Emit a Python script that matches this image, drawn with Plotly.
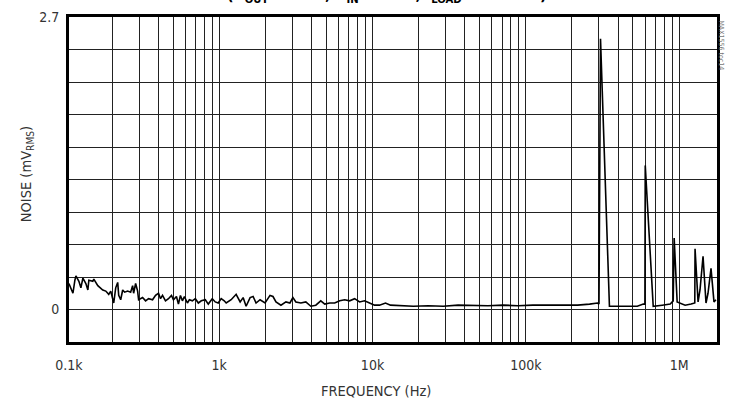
import plotly.graph_objects as go

# ---- data ----
freq_hz = [
    104.6, 107.8, 111.1, 114.4, 116.2, 121.5, 125.2, 129.0, 134.9, 139.0, 141.1, 149.7, 152.0,
    161.4, 173.9, 181.9, 190.2, 196.0, 201.9, 205.0, 211.2, 217.6, 220.9, 227.6, 234.5, 241.6,
    252.7, 264.3, 272.3, 276.4, 284.8, 293.5, 297.9, 316.3, 330.8, 346.0, 367.4, 384.2, 401.8,
    414.0, 426.6, 446.1, 466.5, 488.0, 502.8, 526.0, 541.8, 558.3, 575.1, 592.6, 619.8, 638.6,
    668.0, 698.5, 730.6, 764.0, 811.1, 848.3, 900.6, 941.8, 985.1, 1030, 1078,
    1110, 1196, 1289, 1369, 1432, 1497, 1590, 1663, 1739, 1846, 1990, 2144, 2242, 2345, 2527,
    2723, 2891, 3024, 3162, 3408, 3672, 3957, 4265, 4596, 4879, 5258, 5665, 6107, 6579, 7089,
    7641, 8234, 8873, 9562, 10300, 11100,
    12150, 13090, 14750, 18460, 23100, 28900, 36150, 45270, 56630, 70960, 88730, 111000,
    139000, 173800, 217700, 260400, 293600, 300000, 307000, 351000, 395500, 459300, 533500,
    583700, 598000, 601000, 677500, 775600, 874700, 914800, 928000, 970600, 1094000, 1197000,
    1265000, 1270000, 1329000, 1368000, 1432000, 1497000, 1543000, 1614000, 1688000, 1738000,
]
noise_mvrms = [
    0.24, 0.20, 0.15, 0.27, 0.31, 0.26, 0.20, 0.29, 0.24, 0.18, 0.27, 0.26, 0.28,
    0.22, 0.18, 0.17, 0.14, 0.17, 0.09, 0.06, 0.20, 0.25, 0.13, 0.09, 0.18, 0.16,
    0.17, 0.16, 0.22, 0.15, 0.24, 0.17, 0.09, 0.11, 0.08, 0.10, 0.09, 0.13, 0.15,
    0.10, 0.13, 0.08, 0.10, 0.13, 0.09, 0.12, 0.05, 0.13, 0.08, 0.12, 0.06, 0.09,
    0.08, 0.10, 0.06, 0.08, 0.09, 0.05, 0.10, 0.07, 0.06, 0.10, 0.08,
    0.06, 0.09, 0.14, 0.07, 0.11, 0.03, 0.11, 0.12, 0.06, 0.09, 0.06, 0.13, 0.12, 0.07, 0.04,
    0.07, 0.06, 0.11, 0.07, 0.06, 0.07, 0.03, 0.04, 0.08, 0.05, 0.06, 0.06, 0.08, 0.09, 0.08,
    0.10, 0.07, 0.08, 0.06, 0.04, 0.04,
    0.06, 0.04, 0.035, 0.03, 0.035, 0.03, 0.04, 0.035, 0.035, 0.04, 0.035, 0.04,
    0.04, 0.045, 0.04, 0.05, 0.06, 0.05, 2.50, 0.03, 0.03, 0.035, 0.03,
    0.05, 0.05, 1.33, 0.03, 0.04, 0.05, 0.08, 0.66, 0.07, 0.04, 0.05,
    0.06, 0.56, 0.07, 0.18, 0.49, 0.06, 0.15, 0.38, 0.07, 0.09,
]

x_tick_vals = [10 ** 2.02, 1e3, 1e4, 1e5, 1e6]
x_tick_text = ["0.1k", "1k", "10k", "100k", "1M"]
x_minor_vals = [m * 10 ** d for d in range(2, 7) for m in range(2, 10)] + [1e3, 1e4, 1e5, 1e6]
y_tick_vals = [-0.3, 0, 0.3, 0.6, 0.9, 1.2, 1.5, 1.8, 2.1, 2.4, 2.7]
y_tick_text = ["", "0", "", "", "", "", "", "", "", "", "2.7"]

FONT = "DejaVu Sans Condensed, Liberation Sans Narrow, sans-serif"
GRID = "#222222"
TXT = "#333333"

fig = go.Figure()
fig.add_trace(go.Scatter(x=freq_hz, y=noise_mvrms, mode="lines",
                         line=dict(color="black", width=1.6), showlegend=False,
                         hoverinfo="skip"))

fig.update_layout(
    width=729, height=400,
    margin=dict(l=69, r=9, t=17, b=58),
    paper_bgcolor="white", plot_bgcolor="white",
    font=dict(family=FONT, size=14, color=TXT),
    xaxis=dict(type="log", range=[2.02, 6.247],
               tickmode="array", tickvals=x_tick_vals, ticktext=x_tick_text,
               ticks="", ticklabelstandoff=8,
               showgrid=False, zeroline=False,
               showline=True, mirror=True, linecolor="black", linewidth=3,
               minor=dict(tickmode="array", tickvals=x_minor_vals, showgrid=True,
                          gridcolor=GRID, gridwidth=1, ticks="")),
    yaxis=dict(range=[-0.3, 2.7], tickmode="array", tickvals=y_tick_vals,
               ticktext=y_tick_text, ticks="", ticklabelstandoff=4,
               showgrid=True, gridcolor=GRID, gridwidth=1, zeroline=False,
               showline=True, mirror=True, linecolor="black", linewidth=3),
    annotations=[
        dict(text="NOISE (mV<sub>RMS</sub>)", xref="paper", yref="paper",
             x=-0.0645, y=0.517, textangle=-90, showarrow=False,
             xanchor="center", yanchor="middle", font=dict(size=14.5, color=TXT)),
        dict(text="FREQUENCY (Hz)", xref="paper", yref="paper",
             x=0.473, y=-0.151, showarrow=False,
             xanchor="center", yanchor="middle", font=dict(size=14.5, color=TXT)),
        dict(text="<b>(V<sub>OUT</sub> = 1.5V, V<sub>IN</sub> = 3.6V, I<sub>LOAD</sub> = 300mA)</b>",
             xref="paper", yref="paper", x=0.49, y=1.028, showarrow=False,
             xanchor="center", yanchor="bottom", font=dict(size=16, color="black")),
        dict(text="MAX1556 toc14", xref="paper", yref="paper", x=1.007, y=0.914,
             textangle=90, showarrow=False, xanchor="center", yanchor="middle",
             font=dict(size=7, color="#777777")),
    ],
)

fig.write_html("out.html")
